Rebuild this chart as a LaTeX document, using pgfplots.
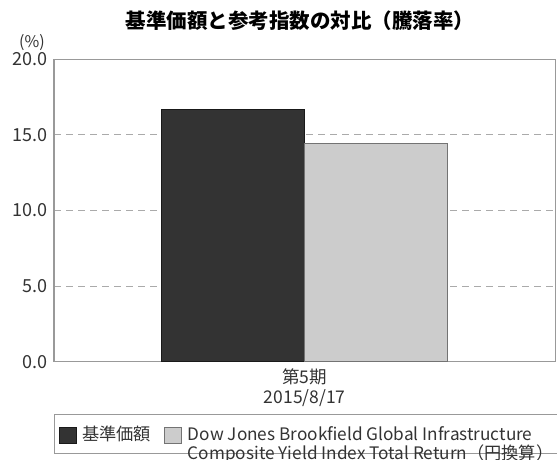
\documentclass[border=0pt]{standalone}
\usepackage{pgfplots}
\pgfplotsset{compat=1.18}
\usepackage{fontspec}
\setmainfont{Noto Sans CJK JP}
\definecolor{darkbar}{HTML}{333333}
\definecolor{lightbar}{HTML}{CCCCCC}
\definecolor{framegray}{HTML}{999999}
\definecolor{gridgray}{HTML}{AAAAAA}
\definecolor{txt}{HTML}{333333}
\begin{document}
\begin{tikzpicture}
\path[use as bounding box] (0bp,0bp) rectangle (557bp,-460bp);
\node[font=\fontsize{20.5bp}{22bp}\selectfont\bfseries, text=black] at (300bp,-21bp) {基準価額と参考指数の対比（騰落率）};
\node[font=\fontsize{16bp}{17bp}\selectfont, text=txt] at (32bp,-43bp) {(\%)};
\begin{axis}[
  at={(54bp,-361.7bp)}, anchor=south west,
  scale only axis, width=501.7bp, height=302.4bp,
  xmin=-1, xmax=1, ymin=0, ymax=20,
  axis line style={framegray, line width=1.4bp},
  ytick={0,5,10,15,20},
  /pgf/number format/fixed, /pgf/number format/fixed zerofill, /pgf/number format/precision=1,
  /pgf/number format/assume math mode=true,
  yticklabel style={font=\fontsize{18bp}{20bp}\selectfont, text=txt, xshift=-3bp},
  xtick={0}, xticklabels={第5期\\2015/8/17},
  xticklabel style={font=\fontsize{17.5bp}{20bp}\selectfont, text=txt, align=center, yshift=-3bp},
  tick style={draw=none},
  ymajorgrids, grid style={gridgray, line width=1bp, dash pattern=on 7bp off 5bp},
  legend style={at={(0,-0.173)}, anchor=north west, draw=framegray, line width=1.2bp,
    font=\fontsize{17.2bp}{17.2bp}\selectfont, text=txt, cells={anchor=base west},
    inner xsep=4bp, inner ysep=9.5bp, column sep=4bp,
    /tikz/every even column/.append style={column sep=11bp}},
  legend columns=2,
]
\addplot[ybar, bar width=0.57, bar shift=-0.285, fill=darkbar, draw=black!90, line width=0.8bp,
  legend image code/.code={\draw[fill=darkbar, draw=black!90, line width=0.8bp] (0bp,-3bp) rectangle (17bp,13bp);}]
  coordinates {(0,16.69)};
\addlegendentry{基準価額}
\addplot[ybar, bar width=0.57, bar shift=0.285, fill=lightbar, draw=black!55, line width=0.8bp,
  legend image code/.code={\draw[fill=lightbar, draw=black!55, line width=0.8bp] (0bp,-3bp) rectangle (17bp,13bp);}]
  coordinates {(0,14.44)};
\addlegendentry{\begin{tabular}[t]{@{}l@{}}Dow Jones Brookfield Global Infrastructure\\[-1.5bp]Composite Yield Index Total Return（円換算）\end{tabular}}
\end{axis}
\end{tikzpicture}
\end{document}
